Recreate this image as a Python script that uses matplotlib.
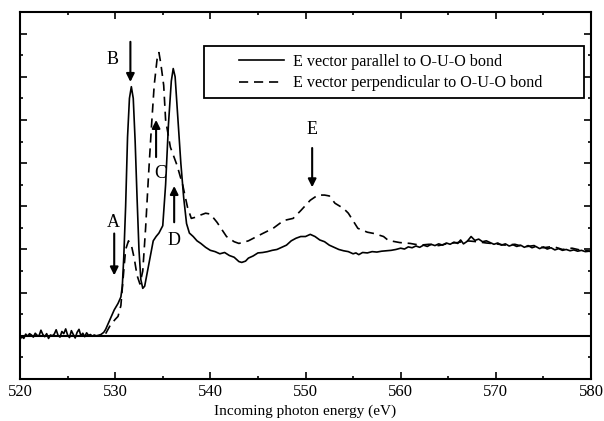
import matplotlib
matplotlib.use("Agg")
import matplotlib.pyplot as plt
from matplotlib.patches import Rectangle
from matplotlib.ticker import MultipleLocator

plt.rcParams['font.family'] = ['Liberation Serif', 'DejaVu Serif']

# --- data (energy in eV, intensity in arbitrary units) ---
par_x = [520.0, 520.2, 520.4, 520.6, 520.8, 521.0, 521.2, 521.4, 521.6, 521.8,
         522.0, 522.2, 522.4, 522.6, 522.8, 523.0, 523.2, 523.4, 523.6, 523.8,
         524.0, 524.2, 524.4, 524.6, 524.8, 525.0, 525.2, 525.4, 525.6, 525.8,
         526.0, 526.2, 526.4, 526.6, 526.8, 527.0, 527.2, 527.4, 527.6, 527.8,
         528.0, 528.2, 528.5, 528.8, 529.0, 529.3, 529.6, 529.9, 530.3, 530.6,
         530.75, 530.9, 531.1, 531.3, 531.5, 531.7, 531.9, 532.1, 532.3, 532.5,
         532.7, 532.9, 533.1, 533.4, 533.7, 534.0, 534.3, 534.6, 535.0, 535.3,
         535.6, 535.9, 536.1, 536.3, 536.6, 536.9, 537.2, 537.5, 537.8, 538.2,
         538.6, 539.0, 539.5, 540.0, 540.5, 541.0, 541.5, 542.0, 542.5, 543.0,
         543.3, 543.7, 544.0, 544.5, 545.0, 545.5, 546.0, 546.5, 547.0, 547.5,
         548.0, 548.5, 549.0, 549.5, 550.0, 550.5, 551.0, 551.5, 552.0, 552.5,
         553.0, 553.5, 554.0, 554.5, 555.0, 555.3, 555.6, 556.0, 556.5, 557.0,
         557.5, 558.0, 558.5, 559.0, 559.5, 560.0, 560.4, 560.8, 561.2, 561.6,
         562.0, 562.4, 562.8, 563.2, 563.6, 564.0, 564.4, 564.8, 565.2, 565.6,
         566.0, 566.3, 566.6, 567.0, 567.4, 567.8, 568.2, 568.6, 569.0, 569.4,
         569.8, 570.2, 570.6, 571.0, 571.4, 571.8, 572.2, 572.6, 573.0, 573.4,
         573.8, 574.2, 574.6, 575.0, 575.4, 575.8, 576.2, 576.6, 577.0, 577.4,
         577.8, 578.2, 578.6, 579.0, 579.4, 579.8, 580.0]
par_y = [-0.08, -0.02, -0.06, 0.04, -0.01, 0.05, 0.02, -0.03, 0.06, 0.01,
         0.00, 0.13, 0.03, -0.02, 0.05, -0.06, 0.02, 0.00, 0.04, 0.14,
         0.01, -0.03, 0.10, 0.05, 0.16, 0.02, -0.04, 0.12, 0.03, -0.05,
         0.08, 0.15, 0.00, 0.06, -0.02, 0.07, 0.01, 0.03, -0.01, 0.02,
         0.00, 0.01, 0.03, 0.08, 0.15, 0.30, 0.45, 0.60, 0.75, 0.90,
         1.15, 1.80, 3.00, 4.60, 5.50, 5.77, 5.50, 4.50, 3.20, 2.00,
         1.30, 1.10, 1.15, 1.50, 1.85, 2.20, 2.30, 2.38, 2.55, 3.50,
         4.90, 5.90, 6.19, 6.00, 5.00, 4.00, 3.20, 2.60, 2.38, 2.30,
         2.20, 2.14, 2.05, 1.98, 1.95, 1.90, 1.93, 1.86, 1.82, 1.72,
         1.70, 1.73, 1.80, 1.85, 1.92, 1.93, 1.95, 1.98, 2.00, 2.05,
         2.10, 2.20, 2.26, 2.30, 2.30, 2.35, 2.30, 2.22, 2.18, 2.10,
         2.05, 2.00, 1.97, 1.95, 1.90, 1.92, 1.88, 1.93, 1.92, 1.95,
         1.94, 1.96, 1.97, 1.98, 2.00, 2.03, 2.01, 2.06, 2.04, 2.08,
         2.05, 2.10, 2.07, 2.12, 2.09, 2.13, 2.10, 2.15, 2.12, 2.17,
         2.14, 2.22, 2.13, 2.19, 2.30, 2.21, 2.24, 2.18, 2.20, 2.16,
         2.12, 2.15, 2.10, 2.13, 2.08, 2.11, 2.07, 2.10, 2.05, 2.09,
         2.04, 2.07, 2.02, 2.06, 2.01, 2.04, 1.99, 2.02, 1.98, 2.00,
         1.97, 1.99, 1.96, 1.98, 1.95, 1.96, 1.95]

perp_x = [529.0, 529.5, 530.0, 530.3, 530.6, 530.9, 531.1, 531.4, 531.7, 532.0,
          532.3, 532.6, 532.9, 533.2, 533.5, 533.8, 534.1, 534.4, 534.6, 534.8,
          535.1, 535.3, 535.8, 536.5, 537.1, 537.6, 538.0, 538.5, 539.0, 539.5,
          540.0, 540.7, 541.7, 542.5, 543.0, 544.0, 545.5, 546.6, 547.7, 548.7,
          549.5, 550.5, 551.3, 552.0, 552.5, 553.1, 554.0, 554.5, 555.5, 556.5,
          557.2, 558.2, 558.7, 559.9, 561.0, 562.0, 563.0, 564.0, 565.0, 566.0,
          567.0, 568.0, 569.0, 570.0, 571.0, 572.0, 573.0, 574.0, 575.0, 576.0,
          577.0, 578.0, 579.0, 580.0]
perp_y = [0.05, 0.25, 0.38, 0.45, 0.70, 1.50, 2.00, 2.20, 2.10, 1.80,
          1.40, 1.20, 1.50, 2.50, 3.70, 4.80, 5.80, 6.40, 6.56, 6.30,
          5.80, 5.00, 4.37, 3.95, 3.49, 2.98, 2.72, 2.75, 2.80, 2.84,
          2.82, 2.63, 2.30, 2.18, 2.14, 2.20, 2.37, 2.49, 2.67, 2.72,
          2.90, 3.14, 3.26, 3.26, 3.24, 3.07, 2.95, 2.84, 2.49, 2.40,
          2.37, 2.30, 2.21, 2.16, 2.14, 2.10, 2.12, 2.09, 2.14, 2.16,
          2.20, 2.18, 2.15, 2.13, 2.10, 2.12, 2.06, 2.09, 2.04, 2.07,
          2.00, 2.03, 1.98, 1.96]

# peak markers: label, arrow x, arrow tail y, arrow tip y, label x, label y
mark_lbl = ['A', 'B', 'C', 'D', 'E']
mark_x = [529.9, 531.6, 534.3, 536.2, 550.7]
mark_tail = [2.37, 6.81, 4.14, 2.63, 4.35]
mark_tip = [1.40, 5.88, 5.00, 3.47, 3.44]
mark_lx = [529.8, 529.7, 534.75, 536.2, 550.7]
mark_ly = [2.63, 6.40, 3.77, 2.21, 4.77]

leg_labels = ['E vector parallel to O-U-O bond',
              'E vector perpendicular to O-U-O bond']

fig = plt.figure(figsize=(6.04, 4.21), dpi=100)
ax = fig.add_axes([20/604, 1-379/421, 571/604, 367/421])

ax.axhline(0, color='k', lw=1.5)
l1, = ax.plot(par_x, par_y, color='k', lw=1.2)
l2, = ax.plot(perp_x, perp_y, color='k', lw=1.2, ls=(0, (5.5, 3.5)))

for i in range(len(mark_lbl)):
    ax.annotate('', xy=(mark_x[i], mark_tip[i]), xytext=(mark_x[i], mark_tail[i]),
                arrowprops=dict(arrowstyle='-|>', color='k', lw=1.5,
                                mutation_scale=12, shrinkA=0, shrinkB=0))
    ax.text(mark_lx[i], mark_ly[i], mark_lbl[i], fontsize=13,
            ha='center', va='center')

ax.set_xlim(520, 580)
ax.set_ylim(-1, 7.5)
ax.xaxis.set_major_locator(MultipleLocator(10))
ax.xaxis.set_minor_locator(MultipleLocator(5))
ax.yaxis.set_major_locator(MultipleLocator(1))
ax.yaxis.set_minor_locator(MultipleLocator(0.5))
ax.tick_params(which='both', direction='in', top=True, right=True,
               labelleft=False, labelsize=12, width=1.2)
ax.tick_params(which='major', length=5)
ax.tick_params(which='minor', length=2.5)
for s in ax.spines.values():
    s.set_linewidth(1.5)
ax.set_xlabel('Incoming photon energy (eV)', fontsize=11, labelpad=3)

# legend box
ax.add_patch(Rectangle(((204-20)/571, (379-98)/367), 380/571, 52/367,
                       transform=ax.transAxes, fill=False, ec='k', lw=1.3))
ax.legend([l1, l2], leg_labels, loc='upper left', frameon=False,
          bbox_to_anchor=((239-20)/571, (379-54)/367), borderpad=0,
          borderaxespad=0, fontsize=11.6, handlelength=2.8, handletextpad=0.55,
          labelspacing=0.33)

fig.savefig('out.png', dpi=100)
